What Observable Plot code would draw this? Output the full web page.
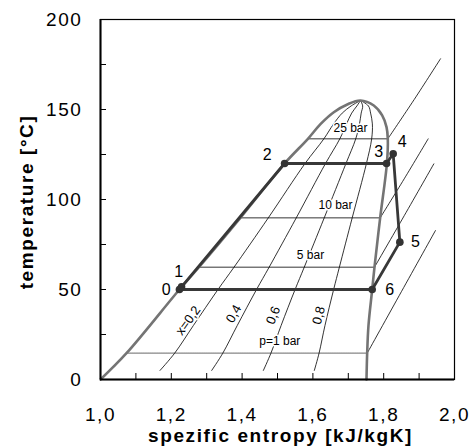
<!DOCTYPE html>
<html><head><meta charset="utf-8">
<script src="https://cdn.jsdelivr.net/npm/d3@7"></script>
<script src="https://cdn.jsdelivr.net/npm/@observablehq/plot@0.6"></script>
<style>
html,body{margin:0;padding:0;background:#fff;}
#chart svg{display:block;}
</style></head><body><div id="chart"></div>
<script>
// ---- tick values ----
const xTicksMajor = [1.0, 1.2, 1.4, 1.6, 1.8, 2.0];
const xTicksMinor = [1.0, 1.1, 1.2, 1.3, 1.4, 1.5, 1.6, 1.7, 1.8, 1.9, 2.0];
const yTicksMajor = [0, 50, 100, 150, 200];
const yTicksMinor = [0, 25, 50, 75, 100, 125, 150, 175, 200];
const xTitle = "spezific entropy [kJ/kgK]";
const yTitle = "temperature [°C]";

// ---- saturation dome (s in kJ/kgK, T in °C) ----
const liquidS = [1.000, 1.0734, 1.223, 1.278, 1.395, 1.520, 1.586, 1.622, 1.659, 1.697, 1.7345];
const liquidT = [0, 14.6, 50, 62.4, 89.8, 120, 133.7, 142, 148.5, 152.8, 155];
const vaporS = [1.7345, 1.772, 1.7957, 1.808, 1.8116, 1.809, 1.790, 1.774, 1.7675, 1.757, 1.7533, 1.7514];
const vaporT = [155, 152.2, 146.7, 140.2, 133.7, 120, 89.8, 62.4, 50, 30, 14.6, 0];

// ---- lines of constant quality x ----
const qualityNames = ["0.2", "0.4", "0.6", "0.8"];
const qualityT = [5, 14.6, 30, 50, 62.4, 89.8, 120, 133.7, 142, 148, 152, 155];
const quality02S = [1.168, 1.2094, 1.2624, 1.3319, 1.3772, 1.474, 1.5778, 1.631, 1.6585, 1.6828, 1.7082, 1.7345];
const quality04S = [1.314, 1.3454, 1.3863, 1.4408, 1.4764, 1.553, 1.6356, 1.676, 1.695, 1.7096, 1.7244, 1.7345];
const quality06S = [1.460, 1.4814, 1.5102, 1.5497, 1.5756, 1.632, 1.6934, 1.721, 1.7316, 1.7364, 1.7406, 1.7345];
const quality08S = [1.604, 1.6174, 1.6341, 1.6586, 1.6748, 1.711, 1.7512, 1.766, 1.768, 1.763, 1.7568, 1.7345];
const qualityLabels = ["x=0,2", "0,4", "0,6", "0,8"];
const qualityLabelS = [1.2477, 1.3766, 1.4879, 1.6167];
const qualityLabelT = [32.8, 36.5, 35.6, 35.6];

// ---- isobars ----
const isobarNames = ["25 bar", "10 bar", "5 bar", "p=1 bar"];
const isobarT = [133.7, 89.8, 62.4, 14.6];
const isobarLiquidS = [1.586, 1.395, 1.278, 1.0734];
const isobarVaporS = [1.8116, 1.790, 1.774, 1.7533];
const isobarLabelS = [1.7062, 1.6638, 1.5932, 1.5065];
const isobarLabelT = [139.6, 96.7, 68.9, 21.3];
// superheated parts
const super25S = [1.8116, 1.886, 1.9605];
const super25T = [133.7, 155.5, 178.2];
const super10S = [1.790, 1.858, 1.9256];
const super10T = [89.8, 111.5, 133.7];
const super5S = [1.774, 1.858, 1.9416];
const super5T = [62.4, 91.0, 119.8];
const super1S = [1.7533, 1.850, 1.9463];
const super1T = [14.6, 48.8, 82.8];

// ---- cycle ----
const cycleLabels = ["0", "1", "2", "3", "4", "5", "6"];
const cycleS = [1.223, 1.229, 1.520, 1.808, 1.8268, 1.8456, 1.7675];
const cycleT = [50, 51.5, 120, 120, 125.4, 76.3, 50];
const cycleLabelS = [1.1856, 1.2212, 1.4708, 1.7862, 1.8522, 1.8898, 1.8173];
const cycleLabelT = [49.8, 59.6, 125, 126.3, 131.8, 76.3, 49.8];

// ---- build tables ----
const dome = liquidS.map((s, i) => ({s, T: liquidT[i]}))
  .concat(vaporS.slice(1).map((s, i) => ({s, T: vaporT[i + 1]})));
const qualitySeries = [quality02S, quality04S, quality06S, quality08S];
const qualityLines = qualitySeries.flatMap((arr, k) => arr.map((s, i) => ({s, T: qualityT[i], x: qualityNames[k]})));
const qualityLabelAngles = [-54, -61, -68, -75];
const qualityText = qualityLabels.map((t, i) => ({t, s: qualityLabelS[i], T: qualityLabelT[i], a: qualityLabelAngles[i]}));
const isoInside = isobarNames.flatMap((n, i) => [{n, s: isobarLiquidS[i], T: isobarT[i]}, {n, s: isobarVaporS[i], T: isobarT[i]}]);
const isoInsideSolid = isoInside.filter(d => d.n !== "p=1 bar");
const isoInsideLow = isoInside.filter(d => d.n === "p=1 bar");
const superLines = [[super25S, super25T, "25"], [super10S, super10T, "10"], [super5S, super5T, "5"], [super1S, super1T, "1"]]
  .flatMap(([S, T, n]) => S.map((s, i) => ({s, T: T[i], n})));
const isoText = isobarNames.map((t, i) => ({t, s: isobarLabelS[i], T: isobarLabelT[i]}));
const cycle = cycleS.map((s, i) => ({s, T: cycleT[i], label: cycleLabels[i]}));
const cyclePath = cycle.concat([cycle[0]]);
const cycleText = cycleLabels.map((t, i) => ({t, s: cycleLabelS[i], T: cycleLabelT[i]}));

const fmtComma = d => d.toFixed(1).replace(".", ",");
const W = 472, H = 447, mL = 100, mR = 18, mT = 19, mB = 68;
const frameH = H - mT - mB, frameW = W - mL - mR;
const tickLen = 6;

const chart = Plot.plot({
  width: W, height: H,
  marginLeft: mL, marginRight: mR, marginTop: mT, marginBottom: mB,
  x: {domain: [1, 2]},
  y: {domain: [0, 200]},
  style: {fontFamily: "'Liberation Sans', Arial, Helvetica, sans-serif", fontSize: "12px", color: "black", background: "white"},
  marks: [
    // thin isobars & quality lines
    Plot.line(isoInsideSolid, {x: "s", y: "T", z: "n", stroke: "black", strokeWidth: 0.8}),
    Plot.line(isoInsideLow, {x: "s", y: "T", stroke: "#858585", strokeWidth: 1.3, strokeDasharray: "1.2,0.6"}),
    Plot.line(superLines, {x: "s", y: "T", z: "n", stroke: "black", strokeWidth: 0.8, curve: "catmull-rom"}),
    Plot.line(qualityLines, {x: "s", y: "T", z: "x", stroke: "black", strokeWidth: 0.8, curve: "catmull-rom"}),
    // labels with halo
    Plot.text(isoText, {x: "s", y: "T", text: "t", fontSize: 12, fill: "black", stroke: "white", strokeWidth: 3}),
    Plot.text(qualityText, {x: "s", y: "T", text: "t", rotate: "a", fontSize: 13, fill: "black", stroke: "white", strokeWidth: 3}),
    // dome
    Plot.line(dome, {x: "s", y: "T", stroke: "#747474", strokeWidth: 2.6, curve: "catmull-rom"}),
    // cycle
    Plot.line(cyclePath, {x: "s", y: "T", stroke: "#383838", strokeWidth: 2.8, strokeLinejoin: "round"}),
    Plot.dot(cycle, {x: "s", y: "T", r: 3.8, fill: "#333", stroke: "none"}),
    Plot.text(cycleText, {x: "s", y: "T", text: "t", fontSize: 16, fill: "black"}),
    // frame and axes
    Plot.frame({stroke: "black", strokeWidth: 1.2}),
    Plot.ruleX([1], {stroke: "black", strokeWidth: 2}),
    Plot.ruleY([0], {stroke: "black", strokeWidth: 2}),
    Plot.tickX(xTicksMinor, {x: d => d, insetTop: frameH - tickLen, stroke: "black", strokeWidth: 1}),
    Plot.tickY(yTicksMinor, {y: d => d, insetRight: frameW - tickLen, stroke: "black", strokeWidth: 1}),
    Plot.axisX(xTicksMajor, {tickSize: 0, tickPadding: 28, tickFormat: fmtComma, fontSize: 19, label: null}),
    Plot.axisY(yTicksMajor, {tickSize: 0, tickPadding: 18, fontSize: 19, label: null}),
    Plot.text([xTitle], {frameAnchor: "bottom", dx: 3, dy: 56, textAnchor: "middle", lineAnchor: "middle", fontSize: 19, fontWeight: "bold"}),
    Plot.text([yTitle], {frameAnchor: "left", dx: -74, dy: 2.5, rotate: -90, textAnchor: "middle", lineAnchor: "middle", fontSize: 19, fontWeight: "bold"})
  ]
});
document.getElementById("chart").appendChild(chart);
// letter spacing for axis texts
d3.select(chart).selectAll("text")
  .filter(function() { return [xTitle, yTitle].includes(this.textContent); })
  .style("letter-spacing", "1.6px");
d3.select(chart).selectAll('g[aria-label="x-axis tick label"] text, g[aria-label="y-axis tick label"] text')
  .style("letter-spacing", "1.6px");
</script>
</body></html>
